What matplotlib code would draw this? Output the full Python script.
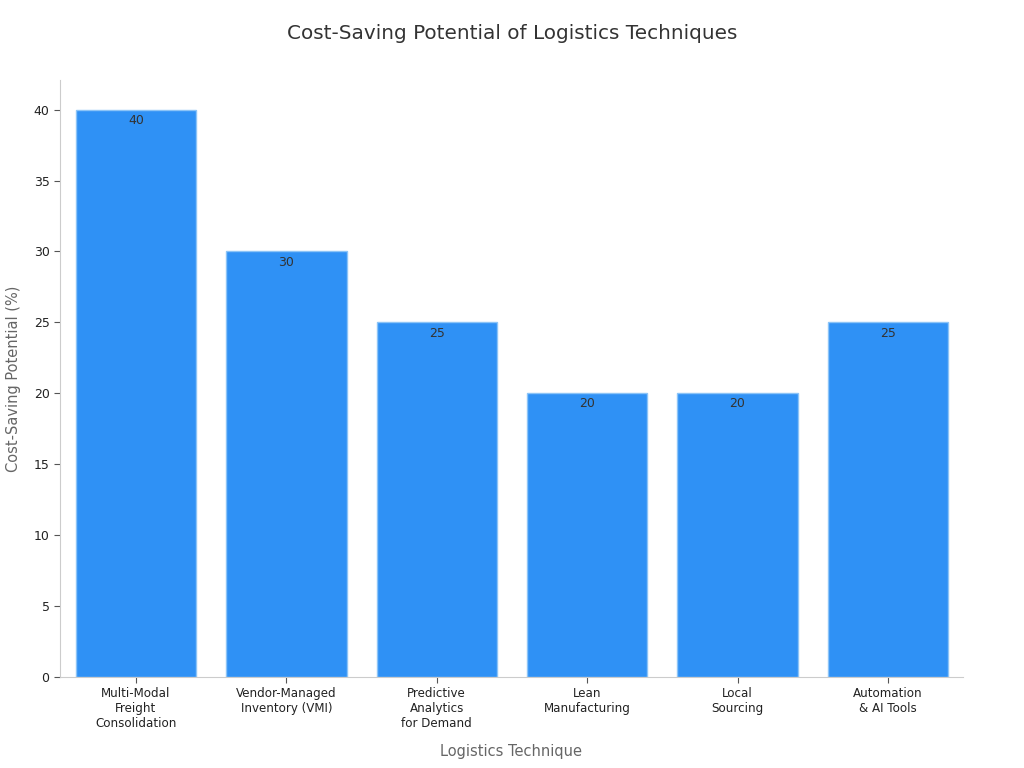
import matplotlib
matplotlib.use('Agg')
import matplotlib.pyplot as plt

# chart data
techniques = ['Multi-Modal\nFreight\nConsolidation', 'Vendor-Managed\nInventory (VMI)',
              'Predictive\nAnalytics\nfor Demand', 'Lean\nManufacturing',
              'Local\nSourcing', 'Automation\n& AI Tools']
savings = [40, 30, 25, 20, 20, 25]

fig = plt.figure(figsize=(10.24, 7.68), dpi=100)
ax = fig.add_axes([0.0586, 0.1185, 0.8818, 0.7775])

x = range(len(techniques))
bars = ax.bar(x, savings, width=0.8, color='#2f91f5', edgecolor='#8cc4f7', linewidth=1)

# value labels just under the bar tops
for b, v in zip(bars, savings):
    ax.annotate(str(v), (b.get_x() + b.get_width() / 2, v), xytext=(0, -3),
                textcoords='offset points', ha='center', va='top',
                fontsize=9, color='#333333')

ax.set_xlim(-0.505, 5.499)
ax.set_ylim(0, 42.1)
ax.set_yticks(range(0, 41, 5))
ax.set_xticks(list(x))
ax.set_xticklabels(techniques, fontsize=8.6, color='#222222')
ax.tick_params(axis='y', labelsize=9, labelcolor='#222222', color='#555555', length=4)
ax.tick_params(axis='x', color='#555555', length=4)

for s in ['top', 'right']:
    ax.spines[s].set_visible(False)
for s in ['left', 'bottom']:
    ax.spines[s].set_color('#cccccc')

ax.set_xlabel('Logistics Technique', fontsize=10.5, color='#666666', labelpad=10)
ax.set_ylabel('Cost-Saving Potential (%)', fontsize=10.5, color='#666666', labelpad=9)
fig.text(0.5, 0.956, 'Cost-Saving Potential of Logistics Techniques', ha='center',
         va='center', fontsize=14.4, color='#333333')

fig.savefig('out.png', dpi=100)
